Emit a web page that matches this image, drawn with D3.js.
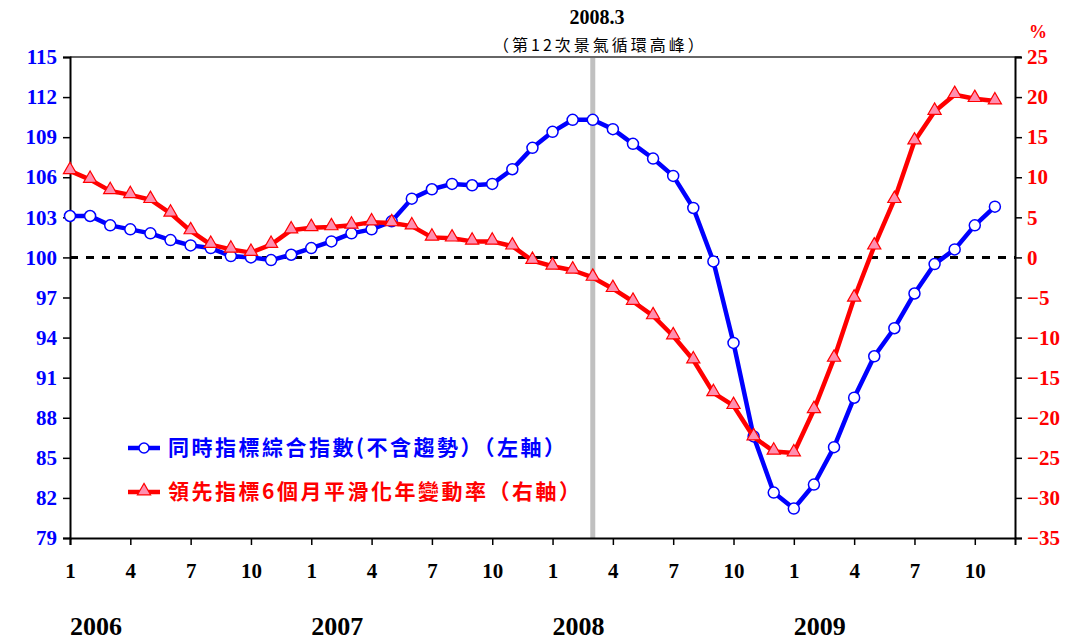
<!DOCTYPE html>
<html>
<head>
<meta charset="utf-8">
<script src="https://cdn.jsdelivr.net/npm/d3@7"></script>
<style>
  body { margin: 0; background: #fff; }
  svg text { font-family: "Liberation Serif", "Times New Roman", serif; }
  .cjk { font-family: "Noto Sans CJK TC", "Noto Sans CJK SC", sans-serif !important; }
</style>
</head>
<body>
<div class="chart"></div>
<script>
// months 2006-01 .. 2009-11
const months = d3.range(47).map(i => ({ year: 2006 + Math.floor(i / 12), month: (i % 12) + 1 }));

// 同時指標綜合指數(不含趨勢) - left axis
const coincident = [
  103.1, 103.1, 102.4, 102.1, 101.8, 101.3, 100.9, 100.7, 100.1, 100.0, 99.8, 100.2,
  100.7, 101.2, 101.8, 102.1, 102.7, 104.4, 105.1, 105.5, 105.4, 105.5, 106.6, 108.2,
  109.4, 110.3, 110.3, 109.6, 108.5, 107.4, 106.1, 103.7, 99.7, 93.6, 86.6, 82.4,
  81.2, 83.0, 85.8, 89.5, 92.6, 94.7, 97.3, 99.5, 100.6, 102.4, 103.8
];

// 領先指標6個月平滑化年變動率 - right axis (%)
const leading = [
  10.8, 9.7, 8.3, 7.8, 7.2, 5.5, 3.3, 1.6, 1.0, 0.6, 1.6, 3.4,
  3.7, 3.8, 4.0, 4.4, 4.3, 3.9, 2.5, 2.4, 2.0, 2.0, 1.4, -0.4,
  -1.1, -1.6, -2.5, -3.9, -5.5, -7.3, -9.8, -12.8, -16.9, -18.5, -22.4, -24.2,
  -24.4, -19.0, -12.6, -5.1, 1.4, 7.2, 14.5, 18.2, 20.3, 19.8, 19.5
];

const leftTicks = d3.range(79, 116, 3);
const rightTicks = d3.range(-35, 26, 5);
const monthTicks = [1, 4, 7, 10];
const years = [2006, 2007, 2008, 2009];
const peakIndex = 26; // 2008.3

const seriesNames = ["同時指標綜合指數(不含趨勢）（左軸）", "領先指標6個月平滑化年變動率（右軸）"];

const width = 1068, height = 641;
const margin = { top: 57, right: 53, bottom: 103, left: 70 };

const svg = d3.select(".chart")
  .append("svg")
    .attr("width", width)
    .attr("height", height);

const x = d3.scaleLinear().domain([0, 47]).range([margin.left, width - margin.right]);
const yL = d3.scaleLinear().domain([79, 115]).range([height - margin.bottom, margin.top]);
const yR = d3.scaleLinear().domain([-35, 25]).range([height - margin.bottom, margin.top]);

// peak marker
svg.append("line")
  .attr("x1", x(peakIndex)).attr("x2", x(peakIndex))
  .attr("y1", margin.top).attr("y2", height - margin.bottom)
  .attr("stroke", "#c0c0c0").attr("stroke-width", 5);

// top border
svg.append("line")
  .attr("x1", margin.left).attr("x2", width - margin.right + 6)
  .attr("y1", margin.top).attr("y2", margin.top)
  .attr("stroke", "#666").attr("stroke-width", 2);

// zero line
svg.append("line")
  .attr("x1", margin.left).attr("x2", width - margin.right)
  .attr("y1", yL(100)).attr("y2", yL(100))
  .attr("stroke", "#000").attr("stroke-width", 3)
  .attr("stroke-dasharray", "8,8");

// axes
const leftAxis = svg.append("g")
  .attr("transform", `translate(${margin.left},0)`)
  .call(d3.axisLeft(yL).tickValues(leftTicks).tickSize(7).tickPadding(6));
leftAxis.selectAll("text").attr("fill", "#0000ff").attr("font-size", 21).attr("font-weight", "bold");

const rightAxis = svg.append("g")
  .attr("transform", `translate(${width - margin.right},0)`)
  .call(d3.axisRight(yR).tickValues(rightTicks).tickSize(7).tickPadding(5));
rightAxis.selectAll("text").attr("fill", "#ff0000").attr("font-size", 21).attr("font-weight", "bold");

const tickIdx = months.map((m, i) => i).filter(i => monthTicks.includes(months[i].month));
const bottomAxis = svg.append("g")
  .attr("transform", `translate(0,${height - margin.bottom})`)
  .call(d3.axisBottom(x).tickValues(tickIdx).tickFormat(i => months[i].month).tickSize(7).tickPadding(18));
bottomAxis.selectAll("text").attr("fill", "#000").attr("font-size", 21).attr("font-weight", "bold");

[leftAxis, rightAxis, bottomAxis].forEach(g => {
  g.select(".domain").attr("stroke", "#000").attr("stroke-width", 2);
  g.selectAll(".tick line").attr("stroke", "#000").attr("stroke-width", 1.5);
});

// year labels
svg.selectAll(".year")
  .data(years)
  .join("text")
    .attr("class", "year")
    .attr("x", (d, i) => x(i * 12))
    .attr("y", 635)
    .attr("font-size", 26)
    .attr("font-weight", "bold")
    .text(d => d);

// % unit
svg.append("text")
  .attr("x", 1038).attr("y", 38)
  .attr("text-anchor", "middle")
  .attr("fill", "#ff0000").attr("font-size", 18).attr("font-weight", "bold")
  .text("%");

// title
svg.append("text")
  .attr("x", 597).attr("y", 24)
  .attr("text-anchor", "middle")
  .attr("font-size", 20).attr("font-weight", "bold")
  .text("2008.3");
svg.append("text")
  .attr("class", "cjk")
  .attr("x", 600).attr("y", 51)
  .attr("text-anchor", "middle")
  .attr("font-size", 16)
  .attr("letter-spacing", 3)
  .text("（第12次景氣循環高峰）");

// lines
const lineL = d3.line().x((d, i) => x(i)).y(d => yL(d));
const lineR = d3.line().x((d, i) => x(i)).y(d => yR(d));

svg.append("path")
  .datum(coincident)
  .attr("d", lineL)
  .attr("fill", "none").attr("stroke", "#0000ff").attr("stroke-width", 4.5)
  .attr("stroke-linejoin", "round");

svg.selectAll(".dotL")
  .data(coincident)
  .join("circle")
    .attr("class", "dotL")
    .attr("cx", (d, i) => x(i)).attr("cy", d => yL(d))
    .attr("r", 5.5)
    .attr("fill", "#fff").attr("stroke", "#0000ff").attr("stroke-width", 1.5);

svg.append("path")
  .datum(leading)
  .attr("d", lineR)
  .attr("fill", "none").attr("stroke", "#ff0000").attr("stroke-width", 4.5)
  .attr("stroke-linejoin", "round");

const tri = d3.symbol().type(d3.symbolTriangle).size(75);
svg.selectAll(".dotR")
  .data(leading)
  .join("path")
    .attr("class", "dotR")
    .attr("d", tri)
    .attr("transform", (d, i) => `translate(${x(i)},${yR(d) - 1})`)
    .attr("fill", "#ff8fb0").attr("stroke", "#ff0000").attr("stroke-width", 1.2);

// legend
const legend = svg.append("g");
const legendRows = [
  { name: seriesNames[0], color: "#0000ff", y: 448, mark: "circle" },
  { name: seriesNames[1], color: "#ff0000", y: 492, mark: "triangle" }
];
legendRows.forEach(r => {
  legend.append("line")
    .attr("x1", 128).attr("x2", 160).attr("y1", r.y).attr("y2", r.y)
    .attr("stroke", r.color).attr("stroke-width", 4.5);
  if (r.mark === "circle") {
    legend.append("circle").attr("cx", 144).attr("cy", r.y).attr("r", 5)
      .attr("fill", "#fff").attr("stroke", r.color).attr("stroke-width", 1.5);
  } else {
    legend.append("path").attr("d", tri).attr("transform", `translate(144,${r.y - 1})`)
      .attr("fill", "#ff8fb0").attr("stroke", r.color).attr("stroke-width", 1.2);
  }
  legend.append("text")
    .attr("class", "cjk")
    .attr("x", 168).attr("y", r.y + 7)
    .attr("fill", r.color).attr("font-size", 21).attr("font-weight", "bold")
    .attr("letter-spacing", 2.5)
    .text(r.name);
});
</script>
</body>
</html>
